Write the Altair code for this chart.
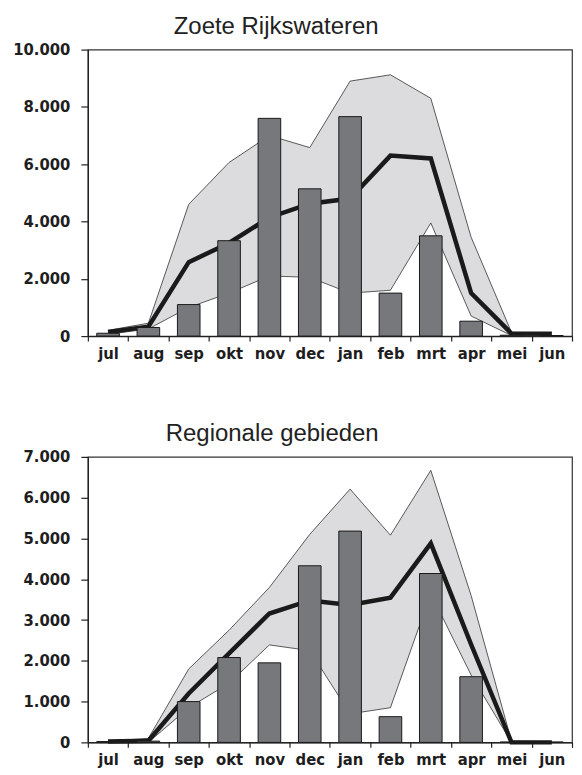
import altair as alt
import pandas as pd

months = ["jul", "aug", "sep", "okt", "nov", "dec", "jan", "feb", "mrt", "apr", "mei", "jun"]

# Zoete Rijkswateren
zr_bar = [100, 300, 1100, 3330, 7600, 5140, 7660, 1500, 3500, 520, 30, 20]
zr_mean = [140, 330, 2580, 3250, 4140, 4620, 4800, 6300, 6200, 1500, 90, 80]
zr_max = [200, 450, 4600, 6060, 7000, 6580, 8900, 9120, 8300, 3450, 130, 120]
zr_min = [60, 250, 1000, 1500, 2100, 2050, 1500, 1600, 3950, 700, 20, 0]

# Regionale gebieden
rg_bar = [20, 30, 1000, 2080, 1950, 4330, 5180, 630, 4140, 1610, 10, 10]
rg_mean = [20, 40, 1200, 2180, 3160, 3480, 3370, 3550, 4880, 2400, 0, 0]
rg_max = [20, 100, 1800, 2750, 3800, 5100, 6210, 5080, 6670, 3600, 30, 20]
rg_min = [0, 0, 850, 1450, 2390, 2250, 700, 850, 3650, 1650, 0, 0]

TICK_FONT = "DejaVu Sans Condensed"
TITLE_FONT = "Liberation Sans"
BAND_GRAY = "#dcdcde"
BAR_GRAY = "#77787c"
DARK = "#1a1a1a"


def panel(title, bars, mean, vmax, vmin, ymax, ystep, height, dx):
    df = pd.DataFrame({"month": months, "bar": bars, "mean": mean, "max": vmax, "min": vmin})
    x = alt.X(
        "month:N",
        sort=months,
        scale=alt.Scale(paddingInner=0, paddingOuter=0),
        axis=alt.Axis(title=None, labelAngle=0, tickBand="extent", tickSize=5, labelPadding=4),
    )
    yscale = alt.Scale(domain=[0, ymax], nice=False)
    yaxis = alt.Axis(
        title=None,
        values=list(range(0, ymax + 1, ystep)),
        labelExpr="replace(format(datum.value, ','), ',', '.')",
        tickSize=7,
        labelPadding=11,
        grid=False,
    )
    base = alt.Chart(df)
    area = base.mark_area(color=BAND_GRAY, opacity=1).encode(
        x=x, y=alt.Y("max:Q", scale=yscale, axis=yaxis), y2="min:Q"
    )
    upper = base.mark_line(color="#333333", strokeWidth=0.8).encode(x=x, y=alt.Y("max:Q"))
    lower = base.mark_line(color="#333333", strokeWidth=0.8).encode(x=x, y=alt.Y("min:Q"))
    mline = base.mark_line(color=DARK, strokeWidth=4.5, strokeJoin="miter").encode(x=x, y=alt.Y("mean:Q"))
    bar = base.mark_bar(
        width=alt.RelativeBandSize(0.56), fill=BAR_GRAY, stroke=DARK, strokeWidth=1
    ).encode(x=x, y=alt.Y("bar:Q"))
    return alt.layer(area, upper, lower, mline, bar).properties(
        width=485,
        height=height,
        title=alt.Title(
            title,
            anchor="start",
            frame="group",
            dx=dx,
            fontSize=24,
            font=TITLE_FONT,
            fontWeight="normal",
            color="#222222",
            offset=3,
        ),
    )


top = panel("Zoete Rijkswateren", zr_bar, zr_mean, zr_max, zr_min, 10000, 2000, 287, 86)
bottom = panel("Regionale gebieden", rg_bar, rg_mean, rg_max, rg_min, 7000, 1000, 286, 78)

chart = (
    alt.vconcat(top, bottom, spacing=58)
    .resolve_scale(y="independent")
    .properties(padding={"left": 4, "top": 5, "right": 0, "bottom": 0}, background="white")
    .configure_view(stroke="#333333", strokeWidth=1.2)
    .configure_axis(
        domainColor="#222222",
        domainWidth=1.3,
        tickColor="#222222",
        tickWidth=1.2,
        labelFont=TICK_FONT,
        labelFontWeight="bold",
        labelFontSize=16.5,
        labelColor="#1e1e1e",
    )
)

chart.save("out.html", embed_options={"renderer": "svg", "actions": False})
